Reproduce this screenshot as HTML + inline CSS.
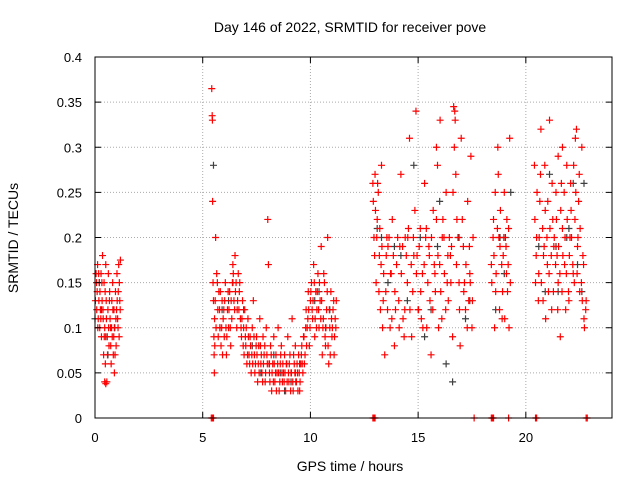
<!DOCTYPE html>
<html><head><meta charset="utf-8"><style>
html,body{margin:0;padding:0;background:#fff;}
svg{display:block;font-family:"Liberation Sans",sans-serif;}
</style></head><body>
<svg id="chart" width="640" height="480">
<rect width="640" height="480" fill="#fff"/>
<text x="350" y="32" font-size="14" text-anchor="middle">Day 146 of 2022, SRMTID for receiver pove</text>
<g id="grid"></g>
<g id="dark"></g>
<g id="red"></g>
<rect x="95" y="57" width="517" height="361" fill="none" stroke="#000"/>
<g id="ticks"></g>
<text x="350" y="471" font-size="14" text-anchor="middle">GPS time / hours</text>
<text transform="translate(18,238) rotate(-90)" font-size="14" text-anchor="middle">SRMTID / TECUs</text>
</svg>
<script>
const xTicks=[0,5,10,15,20];
const yTicks=[0,0.05,0.1,0.15,0.2,0.25,0.3,0.35,0.4];
const yTickLabels=["0","0.05","0.1","0.15","0.2","0.25","0.3","0.35","0.4"];
const redTimes=[0.05,0.08,0.1,0.12,0.15,0.18,0.2,0.22,0.25,0.28,0.3,0.33,0.35,0.38,0.4,0.42,0.45,0.48,0.5,0.52,0.55,0.57,0.6,0.62,0.65,0.68,0.7,0.72,0.75,0.78,0.8,0.82,0.85,0.88,0.9,0.92,0.95,0.98,1.0,1.02,1.05,1.08,1.1,1.12,1.15,1.18,
5.42,5.44,5.45,5.46,5.48,5.5,5.52,5.53,5.54,5.55,5.56,
5.6,5.65,5.7,5.75,5.8,5.85,5.9,5.95,6.0,6.05,6.1,6.15,6.2,6.25,6.3,6.35,6.4,6.45,6.5,6.55,6.6,6.65,6.7,6.75,6.8,6.85,6.9,6.95,
7.0,7.05,7.1,7.15,7.2,7.25,7.3,7.35,7.4,7.45,7.5,7.55,7.6,7.65,7.7,7.75,7.8,7.85,7.9,7.95,8.0,8.02,8.05,8.1,8.15,8.2,8.25,8.3,8.35,8.4,8.45,8.5,8.55,8.6,8.65,8.7,8.75,8.8,8.85,8.9,8.95,9.0,9.05,9.1,9.15,9.2,9.25,9.3,9.35,9.4,9.45,9.5,9.55,9.6,9.65,
9.7,9.75,9.8,9.85,9.9,9.95,10.0,10.05,10.1,10.15,10.2,10.25,10.3,10.35,10.4,10.45,10.5,10.55,10.6,10.65,10.7,10.75,10.8,10.85,10.9,10.95,11.0,11.05,11.1,11.15,11.2,
12.9,12.95,13.0,13.05,13.1,13.15,13.2,13.25,13.3,13.35,13.4,
13.5,13.6,13.7,13.8,13.9,14.0,14.1,14.2,14.3,14.4,14.5,14.6,14.7,14.8,14.9,15.0,15.1,15.2,15.3,15.4,15.5,15.6,15.7,15.8,15.9,16.0,16.1,16.2,16.3,16.4,16.5,16.6,16.7,16.8,16.9,17.0,17.1,17.2,17.3,17.4,17.5,17.55,
13.55,13.75,13.95,14.15,14.35,14.55,14.75,14.95,15.15,15.35,15.55,15.75,15.95,16.15,16.35,16.55,16.75,16.95,17.15,17.35,17.45,
18.4,18.5,18.6,18.7,18.8,18.9,19.0,19.1,19.2,19.25,18.55,18.75,18.95,19.15,
20.4,20.5,20.6,20.7,20.8,20.9,21.0,21.1,21.2,21.3,21.4,21.5,21.6,21.7,21.8,21.9,22.0,22.1,22.2,22.3,22.4,22.5,22.6,22.7,22.8,
20.45,20.65,20.85,21.05,21.25,21.45,21.65,21.85,22.05,22.25,22.45,22.65,
5.4,5.45,5.5,12.9,12.95,13.0,17.6,18.4,18.45,18.5,19.2,20.45,20.5,22.8,22.85];
const redValues=[.16,.12,.14,.17,.11,.13,.15,.1,.12,.16,.09,.13,.18,.11,.07,.15,.1,.06,.17,.13,.04,.09,.12,.16,.08,.14,.11,.1,.06,.13,.09,.15,.07,.12,.05,.1,.14,.08,.12,.16,.11,.14,.17,.09,.13,.175,
.365,.335,.33,.24,.15,.13,.09,.07,.05,.11,.08,
.2,.16,.12,.14,.1,.08,.13,.11,.09,.15,.07,.12,.1,.14,.08,.11,.17,.13,.18,.15,.12,.16,.14,.11,.09,.13,.1,.12,
.08,.06,.11,.07,.09,.05,.1,.13,.07,.06,.09,.04,.08,.11,.06,.05,.09,.07,.04,.1,.06,.22,.17,.05,.08,.03,.06,.09,.04,.07,.05,.1,.03,.06,.08,.04,.05,.07,.03,.06,.09,.04,.07,.05,.11,.03,.06,.08,.04,.05,.07,.03,.06,.08,.05,
.09,.07,.12,.1,.14,.08,.13,.15,.11,.17,.09,.14,.12,.16,.1,.13,.19,.07,.11,.15,.08,.12,.2,.06,.1,.14,.09,.12,.07,.11,.13,
.26,.2,.27,.15,.22,.25,.18,.12,.28,.1,.16,
.14,.19,.1,.22,.08,.17,.13,.27,.11,.2,.15,.31,.09,.18,.34,.12,.21,.16,.26,.1,.19,.07,.23,.14,.28,.17,.11,.2,.25,.13,.18,.09,.34,.22,.15,.31,.19,.12,.24,.16,.1,.2,
.2,.16,.12,.19,.09,.21,.14,.18,.11,.2,.13,.17,.1,.22,.15,.19,.27,.08,.15,.13,.29,
.17,.22,.14,.3,.19,.11,.25,.16,.21,.31,.1,.2,.18,.14,
.28,.2,.16,.32,.13,.23,.17,.33,.12,.19,.25,.15,.09,.21,.17,.28,.13,.23,.16,.31,.19,.14,.3,.11,.13,
.15,.24,.19,.14,.22,.18,.26,.12,.2,.15,.24,.18,
0,0,0,0,0,0,0,0,0,0,0,0,0,0,0];
const redTimes2=[0.02,0.07,0.13,0.17,0.23,0.27,0.32,0.37,0.43,0.47,0.53,0.58,0.63,0.67,0.73,0.77,0.83,0.87,0.93,0.97,1.03,1.07,1.13,1.17,0.45,0.5,
5.58,5.62,5.68,5.72,5.78,5.82,5.88,5.92,5.98,6.02,6.08,6.12,6.18,6.22,6.28,6.32,6.38,6.42,6.48,6.52,6.58,6.62,6.68,6.72,6.78,6.82,6.88,6.92,6.98,
7.02,7.08,7.12,7.18,7.22,7.28,7.32,7.38,7.42,7.48,7.52,7.58,7.62,7.68,7.72,7.78,7.82,7.88,7.92,7.98,8.08,8.12,8.18,8.22,8.28,8.32,8.38,8.42,8.48,8.52,8.58,8.62,8.68,8.72,8.78,8.82,8.88,8.92,8.98,9.02,9.08,9.12,9.18,9.22,9.28,9.32,9.38,9.42,9.48,9.52,9.58,9.62,9.68,
9.72,9.78,9.82,9.88,9.92,9.98,10.02,10.08,10.12,10.18,10.22,10.28,10.32,10.38,10.42,10.48,10.52,10.58,10.62,10.68,10.72,10.78,10.82,10.88,10.92,10.98,11.02,11.08,11.12,11.18,
12.92,12.98,13.02,13.08,13.12,13.18,13.22,13.28,13.32,13.38,13.45,13.52,13.58,13.65,13.72,13.78,13.85,13.92,14.05,14.12,14.22,14.28,14.38,14.45,14.52,14.62,14.68,14.78,14.85,14.92,15.05,15.12,15.22,15.28,15.38,15.45,15.52,15.62,15.68,15.78,15.85,15.92,16.05,16.12,16.22,16.28,16.38,16.45,16.52,16.62,16.68,16.78,16.85,16.92,17.05,17.12,17.22,17.28,17.38,17.42,17.52,16.65,16.72,15.85,16.02,15.02,
18.42,18.48,18.52,18.58,18.62,18.68,18.72,18.78,18.82,18.88,18.92,18.98,19.02,19.08,19.12,19.18,19.22,19.28,
20.42,20.48,20.52,20.58,20.62,20.68,20.72,20.78,20.82,20.88,20.92,20.98,21.02,21.08,21.12,21.18,21.22,21.28,21.32,21.38,21.42,21.48,21.52,21.58,21.62,21.68,21.72,21.78,21.82,21.88,21.92,21.98,22.02,22.08,22.12,22.18,22.22,22.28,22.32,22.38,22.42,22.48,22.52,22.58,22.62,22.68,22.72,22.78,21.7,21.5,22.35];
const redValues2=[.13,.15,.1,.16,.14,.11,.15,.12,.09,.14,.11,.07,.1,.13,.08,.1,.12,.09,.07,.11,.13,.1,.15,.12,.04,.038,
.13,.1,.15,.09,.12,.14,.1,.07,.12,.13,.1,.09,.14,.12,.1,.13,.15,.16,.12,.14,.1,.13,.12,.15,.1,.11,.08,.07,.09,
.1,.07,.09,.06,.08,.07,.06,.09,.05,.08,.07,.06,.05,.08,.07,.04,.06,.08,.05,.07,.06,.04,.07,.05,.04,.06,.05,.03,.06,.05,.04,.07,.05,.06,.04,.05,.06,.04,.05,.06,.03,.05,.04,.07,.05,.04,.06,.03,.05,.04,.07,.06,.09,
.06,.1,.08,.11,.12,.1,.14,.12,.13,.15,.11,.1,.14,.12,.15,.11,.13,.1,.16,.09,.1,.14,.08,.12,.07,.11,.1,.13,.09,.1,
.24,.18,.23,.2,.26,.14,.21,.17,.19,.13,.07,.18,.12,.2,.16,.11,.18,.14,.2,.1,.16,.19,.12,.18,.2,.12,.17,.2,.23,.16,.19,.14,.1,.17,.21,.15,.18,.2,.12,.16,.22,.18,.14,.2,.16,.12,.18,.2,.15,.25,.3,.17,.2,.12,.22,.14,.17,.1,.19,.15,.13,.345,.33,.3,.33,.12,
.15,.2,.18,.25,.16,.21,.27,.12,.23,.17,.14,.2,.11,.19,.22,.17,.1,.15,
.22,.18,.25,.13,.2,.27,.15,.21,.18,.28,.11,.2,.24,.16,.21,.18,.26,.14,.2,.17,.22,.12,.19,.16,.23,.14,.18,.25,.2,.16,.22,.14,.18,.26,.2,.17,.28,.22,.25,.16,.2,.27,.21,.15,.13,.17,.1,.12,.3,.29,.32];
const darkTimes=[0.3,0.6,0.9,5.5,5.9,6.4,7.3,8.1,8.6,9.1,9.5,10.2,10.7,13.1,13.6,14.2,14.8,15.3,15.9,16.3,16.6,17.2,18.6,19.05,19.3,20.6,21.1,21.5,22.0,22.4,22.7,
0.2,0.5,5.8,6.2,6.9,7.7,8.3,8.8,9.3,10.4,10.9,13.3,13.9,14.5,15.1,15.6,16.0,16.9,17.4,18.8,19.0,20.9,21.4,21.9,22.2,22.6,0.0];
const darkValues=[.12,.07,.1,.28,.12,.15,.08,.06,.05,.04,.06,.13,.1,.21,.15,.18,.28,.09,.19,.06,.04,.11,.12,.2,.25,.19,.27,.14,.21,.17,.26,
.15,.09,.1,.13,.12,.05,.07,.03,.05,.14,.12,.2,.19,.13,.2,.12,.24,.2,.13,.2,.16,.14,.19,.2,.26,.14,.11];
const x0=95,x1=612,y0=418,y1=57,tMax=24,vMax=0.4;
const xs=t=>x0+(x1-x0)*t/tMax;
const ys=v=>y0-(y0-y1)*v/vMax;
const NS="http://www.w3.org/2000/svg";
function mk(tag,attrs,parent){const e=document.createElementNS(NS,tag);for(const k in attrs)e.setAttribute(k,attrs[k]);parent.appendChild(e);return e;}
const grid=document.getElementById('grid'),ticks=document.getElementById('ticks');
xTicks.forEach(t=>{
 const X=xs(t);
 if(t>0){const g=mk('line',{x1:X,x2:X,y1:y1,y2:y0,stroke:'#aaa','stroke-dasharray':'1,2'},grid);
 
 }
 mk('line',{x1:X,x2:X,y1:y0,y2:y0-6,stroke:'#000'},ticks);
 mk('line',{x1:X,x2:X,y1:y1,y2:y1+6,stroke:'#000'},ticks);
 const l=mk('text',{x:X,y:442,'font-size':13,'text-anchor':'middle'},ticks);l.textContent=t;
 
 
});
yTicks.forEach((v,i)=>{
 const Y=ys(v);
 if(v>0&&v<0.4){const g=mk('line',{x1:x0,x2:x1,y1:Y,y2:Y,stroke:'#aaa','stroke-dasharray':'1,2'},grid);
 
 }
 mk('line',{x1:x0,x2:x0+6,y1:Y,y2:Y,stroke:'#000'},ticks);
 mk('line',{x1:x1,x2:x1-6,y1:Y,y2:Y,stroke:'#000'},ticks);
 const l=mk('text',{x:82,y:Y+5,'font-size':13,'text-anchor':'end'},ticks);l.textContent=yTickLabels[i];
 
 
});
function plus(g,t,v,c,name){
 const X=xs(t),Y=ys(v);
 const p=mk('path',{d:`M${X-3.5},${Y}H${X+3.5}M${X},${Y-3.5}V${Y+3.5}`,stroke:c,'stroke-width':1.2},g);
 
 
}
const dg=document.getElementById('dark'),rg=document.getElementById('red');
darkTimes.forEach((t,i)=>plus(dg,t,darkValues[i],'#404040','dark-point'));
redTimes.forEach((t,i)=>plus(rg,t,redValues[i],'#ff0000','red-point'));
redTimes2.forEach((t,i)=>plus(rg,t,redValues2[i],'#ff0000','red-point'));
</script>
</body></html>
